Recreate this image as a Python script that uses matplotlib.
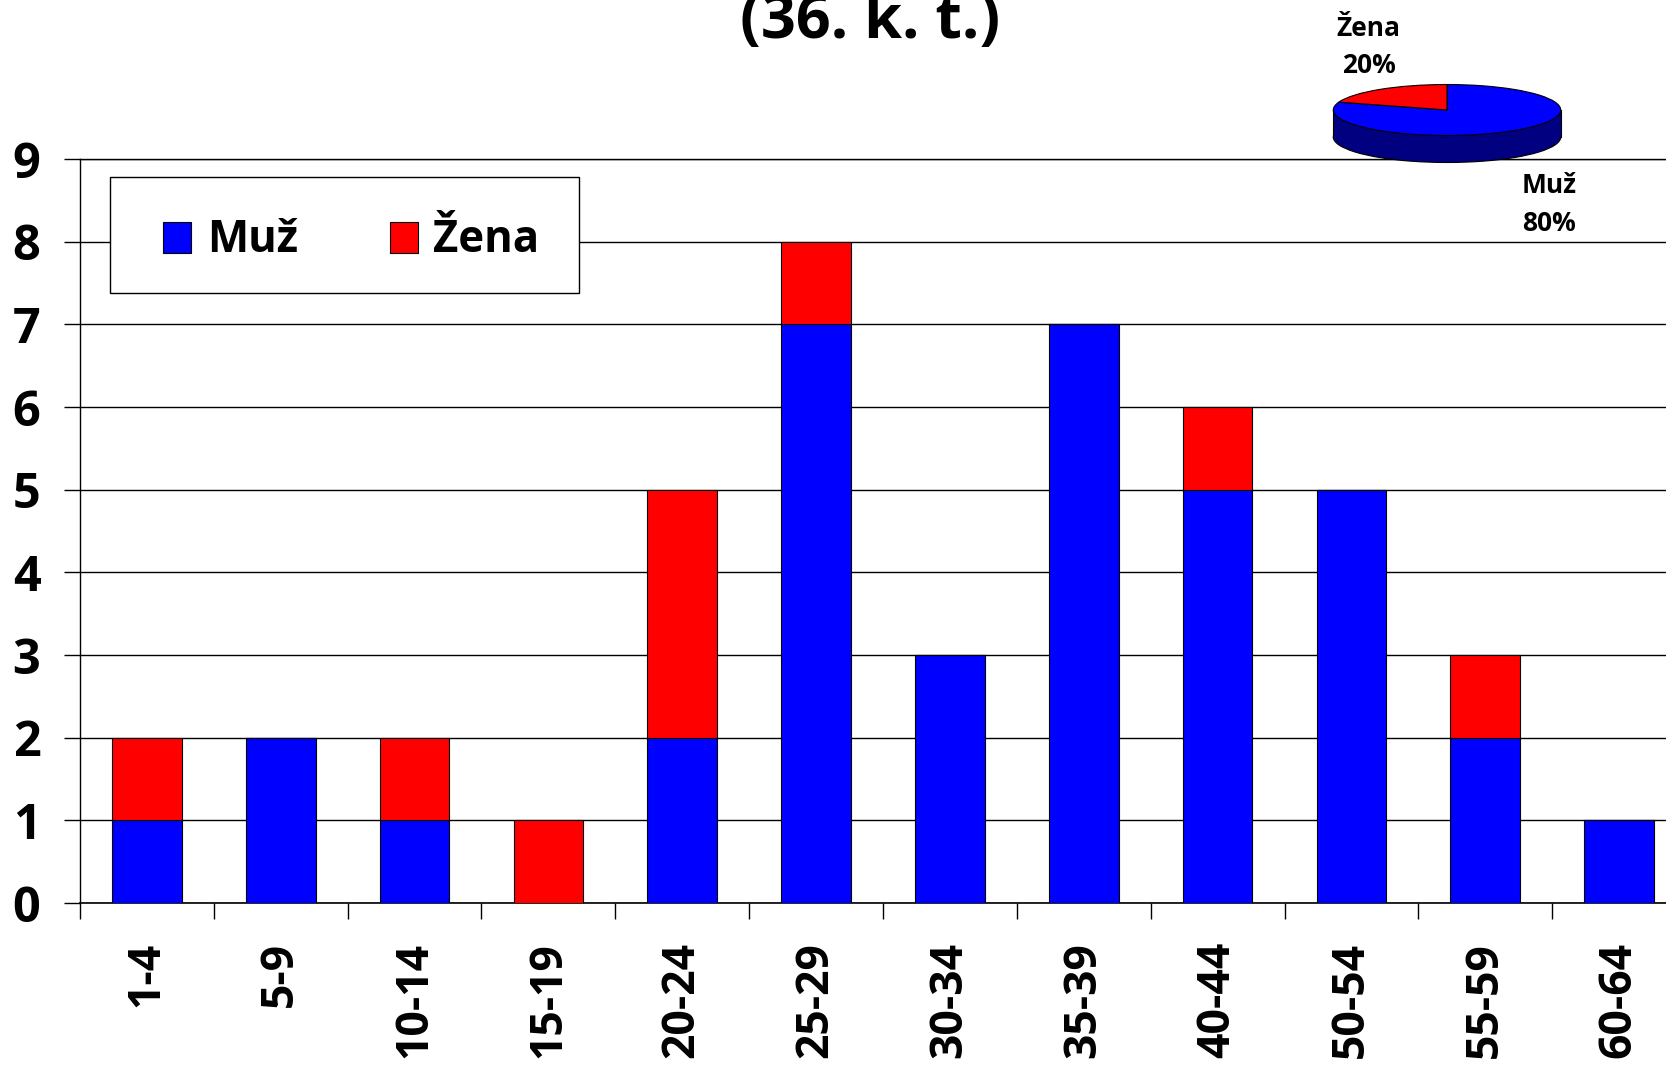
import numpy as np
import matplotlib.pyplot as plt
from matplotlib.patches import Rectangle

plt.rcParams['font.family'] = ['Open Sans', 'DejaVu Sans']
plt.rcParams['font.weight'] = 'bold'

# data
vekove_skupiny = ['1-4', '5-9', '10-14', '15-19', '20-24', '25-29',
                  '30-34', '35-39', '40-44', '50-54', '55-59', '60-64']
muz = [1, 2, 1, 0, 2, 7, 3, 7, 5, 5, 2, 1]
zena = [1, 0, 1, 1, 3, 1, 0, 0, 1, 0, 1, 0]
nazvy = ['Muž', 'Žena']
barvy = ['#0000FF', '#FF0000']
titulek = '(36. k. t.)'

W, H = 1666, 1067
fig = plt.figure(figsize=(W / 100, H / 100), dpi=100)
ax = fig.add_axes([80 / W, 1 - 903 / H, 1606 / W, 744 / H])
aw, ah = 1606, 744

x = np.arange(len(vekove_skupiny))
ax.bar(x, muz, width=0.52, color=barvy[0], edgecolor='black', linewidth=0.8,
       label=nazvy[0], zorder=3)
ax.bar(x, zena, width=0.52, bottom=muz, color=barvy[1], edgecolor='black',
       linewidth=0.8, label=nazvy[1], zorder=3)

ax.set_xlim(-0.5, len(x) - 0.5)
ax.set_ylim(0, 9)
ax.set_yticks(range(10))
ax.yaxis.grid(True, color='black', linewidth=1)
ax.set_axisbelow(True)

ax.set_xticks(x)
ax.set_xticklabels(vekove_skupiny, rotation=90, fontsize=32, fontweight='bold')
ax.set_xticks(np.arange(len(x) + 1) - 0.5, minor=True)
ax.tick_params(axis='x', which='major', length=0, pad=28)
ax.tick_params(axis='x', which='minor', length=11.5, width=1, direction='out')
ax.tick_params(axis='y', length=11.5, width=1, labelsize=35, pad=17)
for t in ax.get_yticklabels():
    t.set_fontweight('bold')

ax.spines['right'].set_visible(False)
ax.spines['top'].set_linewidth(1)
ax.spines['left'].set_linewidth(1)
ax.spines['bottom'].set_linewidth(1.2)

# legend box (frame drawn separately so the padding can differ per side)
ax.add_patch(Rectangle(((110 - 80) / aw, 1 - (293 - 159) / ah),
                       469 / aw, 116 / ah, transform=ax.transAxes,
                       facecolor='white', edgecolor='black', linewidth=1,
                       zorder=4))
leg = ax.legend(loc='center left',
                bbox_to_anchor=((163 - 80) / aw, 1 - (241 - 159) / ah),
                ncol=2, fontsize=31.5, frameon=False, borderpad=0,
                handlelength=0.65, handleheight=0.7, handletextpad=0.35,
                columnspacing=2.1, borderaxespad=0)
leg.set_zorder(5)

fig.text(0.522, 1 - 38 / H, titulek, ha='center', va='baseline',
         fontsize=44, fontweight='bold')

# small 3d pie
celkem = [sum(muz), sum(zena)]
hloubka = 1.06
pax = fig.add_axes([1331 / W, 1 - 162.5 / H, 232 / W, 78 / H], zorder=5)
pax.pie(celkem, colors=['#000080', '#000080'], startangle=90, counterclock=False,
        center=(0, -hloubka), wedgeprops=dict(edgecolor='black', linewidth=0.8))
pax.add_patch(Rectangle((-1, -hloubka), 2, hloubka, facecolor='#000080',
                        edgecolor='none'))
pax.plot([-1, -1], [-hloubka, 0], color='black', lw=0.8)
pax.plot([1, 1], [-hloubka, 0], color='black', lw=0.8)
pax.pie(celkem, colors=barvy, startangle=90, counterclock=False,
        wedgeprops=dict(edgecolor='black', linewidth=0.8))
pax.set_aspect('auto')
pax.set_xlim(-1.02, 1.02)
pax.set_ylim(-1 - hloubka, 1)
pax.axis('off')

procenta = [round(100 * v / sum(celkem)) for v in celkem]
pax.text(0.9, -3.7, f'{nazvy[0]}\n{procenta[0]}%', ha='center', va='center',
         fontsize=19, fontweight='bold', linespacing=1.5)
pax.text(-0.69, 2.48, f'{nazvy[1]}\n{procenta[1]}%', ha='center', va='center',
         fontsize=19, fontweight='bold', linespacing=1.5)

fig.savefig('out.png', dpi=100)
